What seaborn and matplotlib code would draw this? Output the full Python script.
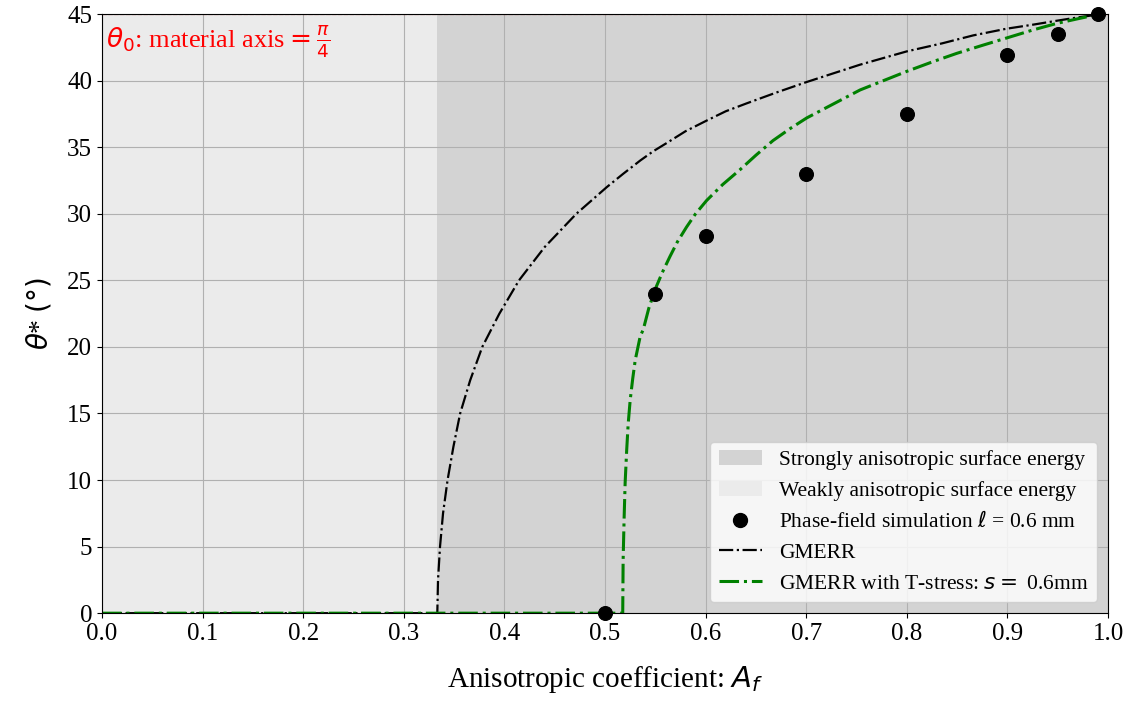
import numpy as np
import pandas as pd
import seaborn as sns
import matplotlib.pyplot as plt
from matplotlib.patches import Patch

# values
gmerr_af = [0.0, 0.3333, 0.334, 0.336, 0.339, 0.3435, 0.3493, 0.356, 0.366,
            0.378, 0.395, 0.4145, 0.440, 0.4715, 0.5017, 0.518, 0.535, 0.548,
            0.561, 0.58, 0.601, 0.62, 0.641, 0.67, 0.7005, 0.7535, 0.80, 0.835,
            0.866, 0.899, 0.925, 0.949, 0.97, 0.9888]
gmerr_theta = [0.0, 0.0, 2.5, 5.0, 7.5, 10.0, 12.5, 15.0, 17.5,
               20.0, 22.5, 25.0, 27.5, 30.0, 32.0, 33.0, 34.0, 34.7,
               35.3, 36.2, 37.0, 37.7, 38.3, 39.1, 39.9, 41.2, 42.2, 42.8,
               43.4, 43.9, 44.2, 44.5, 44.75, 44.95]

tstress_af = [0.0, 0.5176, 0.5178, 0.518, 0.519, 0.520, 0.5215, 0.523, 0.525,
              0.5275, 0.530, 0.535, 0.538, 0.5435, 0.5497, 0.557, 0.5646, 0.572,
              0.581, 0.59, 0.601, 0.617, 0.634, 0.65, 0.667, 0.684, 0.7005,
              0.7535, 0.80, 0.825, 0.8496, 0.875, 0.899, 0.925, 0.949, 0.97, 0.9888]
tstress_theta = [0.0, 0.0, 2.0, 4.0, 7.2, 9.8, 12.2, 14.2, 16.0,
                 17.6, 19.0, 20.8, 21.3, 22.9, 24.3, 25.6, 26.8, 27.9,
                 29.0, 30.0, 31.0, 32.2, 33.3, 34.4, 35.5, 36.4, 37.2,
                 39.3, 40.7, 41.4, 42.05, 42.65, 43.2, 43.8, 44.3, 44.65, 44.95]

sim_af = [0.5, 0.55, 0.6, 0.7, 0.8, 0.9, 0.95, 0.99]
sim_theta = [0.0, 24.0, 28.3, 33.0, 37.5, 41.9, 43.5, 45.0]

x_ticks = [0.0, 0.1, 0.2, 0.3, 0.4, 0.5, 0.6, 0.7, 0.8, 0.9, 1.0]
y_ticks = [0, 5, 10, 15, 20, 25, 30, 35, 40, 45]

plt.rcParams['font.family'] = ['Liberation Serif', 'DejaVu Sans']
plt.rcParams['mathtext.fontset'] = 'dejavusans'

df_gmerr = pd.DataFrame({'Af': gmerr_af, 'theta': gmerr_theta})
df_ts = pd.DataFrame({'Af': tstress_af, 'theta': tstress_theta})
df_sim = pd.DataFrame({'Af': sim_af, 'theta': sim_theta})

fig, ax = plt.subplots(figsize=(11.33, 7.04), dpi=100)
fig.subplots_adjust(left=0.09, right=0.978, top=0.98, bottom=0.129)

ax.axvspan(1 / 3, 1.0, color='#d3d3d3', lw=0)
ax.axvspan(0.0, 1 / 3, color='#ebebeb', lw=0)
ax.axhline(45, color='red', ls='--', lw=0.8)

sns.lineplot(data=df_gmerr, x='Af', y='theta', ax=ax, color='black', lw=1.6,
             linestyle='-.', sort=False, estimator=None)
sns.lineplot(data=df_ts, x='Af', y='theta', ax=ax, color='green', lw=2.2,
             linestyle='-.', sort=False, estimator=None)
sns.scatterplot(data=df_sim, x='Af', y='theta', ax=ax, color='black', s=100,
                edgecolor='black', zorder=5, clip_on=False)

ax.set_xlim(0, 1)
ax.set_ylim(0, 45)
ax.set_xticks(x_ticks)
ax.set_yticks(y_ticks)
ax.tick_params(labelsize=18)
ax.grid(True, color='#b0b0b0', lw=0.8)
ax.set_xlabel(r'Anisotropic coefficient: $A_f$', fontsize=21, labelpad=14)
ax.set_ylabel(r'$\theta$* $(°)$', fontsize=20, labelpad=10)

ax.text(0.004, 0.985, r'$\theta_0$: material axis$=\frac{\pi}{4}$', color='red',
        fontsize=19, transform=ax.transAxes, va='top', ha='left')

handles = [
    Patch(facecolor='#d3d3d3', label='Strongly anisotropic surface energy'),
    Patch(facecolor='#ebebeb', label='Weakly anisotropic surface energy'),
    plt.Line2D([], [], color='black', marker='o', ls='none', markersize=10,
               label=r'Phase-field simulation $\ell$ = 0.6 mm'),
    plt.Line2D([], [], color='black', ls='-.', lw=1.6, label='GMERR'),
    plt.Line2D([], [], color='green', ls='-.', lw=2.2,
               label=r'GMERR with T-stress: $s=$ 0.6mm'),
]
ax.legend(handles=handles, loc='lower right', fontsize=15.5)

fig.savefig('out.png')
